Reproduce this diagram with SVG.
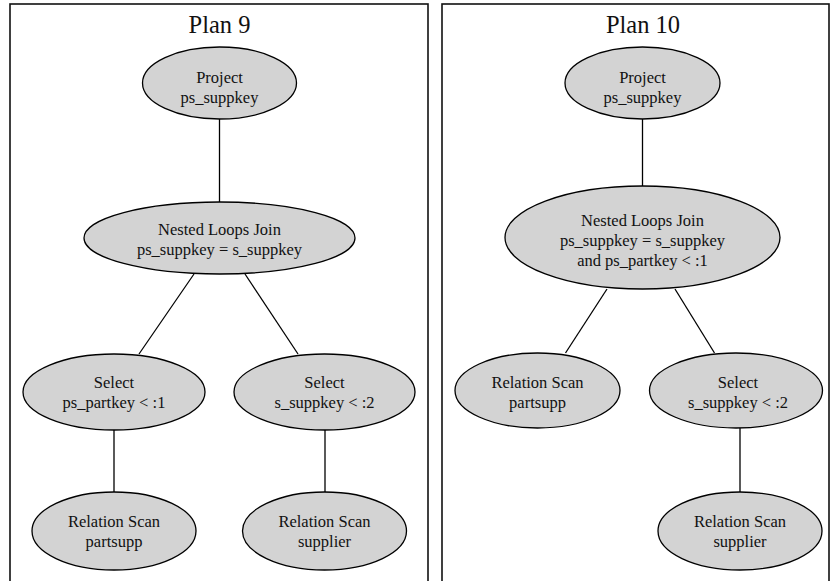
<svg xmlns="http://www.w3.org/2000/svg" width="832" height="581" viewBox="0 0 832 581">
<style>
.panel{fill:#fff;stroke:#111;stroke-width:1.6}
.node ellipse{fill:#d3d3d3;stroke:#000;stroke-width:1.3}
text{font-family:"Liberation Serif","Times New Roman",serif;fill:#111;text-anchor:middle}
.lbl{font-size:16.5px}
.title{font-size:24.5px}
.edges line{stroke:#000;stroke-width:1.3}
</style>
<rect width="832" height="581" fill="#fff"/>
<g id="panel-plan9">
<rect class="panel" x="10" y="4" width="418" height="600"/>
<text class="title" x="219.5" y="33">Plan 9</text>
</g>
<g id="panel-plan10">
<rect class="panel" x="442" y="4" width="387" height="600"/>
<text class="title" x="643" y="33">Plan 10</text>
</g>
<g class="edges" id="connectors">
<line x1="219.5" y1="119" x2="219.5" y2="202"/>
<line x1="194" y1="274" x2="139" y2="354"/>
<line x1="245" y1="274" x2="298" y2="354"/>
<line x1="114" y1="430" x2="114" y2="492"/>
<line x1="325" y1="430" x2="325" y2="492"/>
<line x1="642.5" y1="119" x2="642.5" y2="186"/>
<line x1="607" y1="289" x2="565.5" y2="353"/>
<line x1="675" y1="289" x2="714.5" y2="353"/>
<line x1="740" y1="428" x2="740" y2="492"/>
</g>
<g class="node" id="p9-project">
<ellipse cx="219.5" cy="83" rx="77" ry="36"/>
<text class="lbl" x="219.5" y="83">Project</text>
<text class="lbl" x="219.5" y="103">ps_suppkey</text>
</g>
<g class="node" id="p9-nlj">
<ellipse cx="219.5" cy="238" rx="135.5" ry="36"/>
<text class="lbl" x="219.5" y="235">Nested Loops Join</text>
<text class="lbl" x="219.5" y="255">ps_suppkey = s_suppkey</text>
</g>
<g class="node" id="p9-select-ps">
<ellipse cx="114" cy="392" rx="91" ry="38"/>
<text class="lbl" x="114" y="388">Select</text>
<text class="lbl" x="114" y="408">ps_partkey &lt; :1</text>
</g>
<g class="node" id="p9-select-s">
<ellipse cx="324.5" cy="392" rx="90.5" ry="38"/>
<text class="lbl" x="324.5" y="388">Select</text>
<text class="lbl" x="324.5" y="408">s_suppkey &lt; :2</text>
</g>
<g class="node" id="p9-scan-partsupp">
<ellipse cx="114" cy="531" rx="82" ry="39"/>
<text class="lbl" x="114" y="527">Relation Scan</text>
<text class="lbl" x="114" y="547">partsupp</text>
</g>
<g class="node" id="p9-scan-supplier">
<ellipse cx="324.5" cy="531" rx="82" ry="39"/>
<text class="lbl" x="324.5" y="527">Relation Scan</text>
<text class="lbl" x="324.5" y="547">supplier</text>
</g>
<g class="node" id="p10-project">
<ellipse cx="642.5" cy="83" rx="77.5" ry="36"/>
<text class="lbl" x="642.5" y="83">Project</text>
<text class="lbl" x="642.5" y="103">ps_suppkey</text>
</g>
<g class="node" id="p10-nlj">
<ellipse cx="642.5" cy="237.5" rx="137.5" ry="51.5"/>
<text class="lbl" x="642.5" y="225.5">Nested Loops Join</text>
<text class="lbl" x="642.5" y="245.5">ps_suppkey = s_suppkey</text>
<text class="lbl" x="642.5" y="265.5">and ps_partkey &lt; :1</text>
</g>
<g class="node" id="p10-scan-partsupp">
<ellipse cx="537.5" cy="390.5" rx="82.5" ry="37.5"/>
<text class="lbl" x="537.5" y="388">Relation Scan</text>
<text class="lbl" x="537.5" y="408">partsupp</text>
</g>
<g class="node" id="p10-select-s">
<ellipse cx="736" cy="390.5" rx="86.5" ry="37.5"/>
<text class="lbl" x="738" y="388">Select</text>
<text class="lbl" x="738" y="408">s_suppkey &lt; :2</text>
</g>
<g class="node" id="p10-scan-supplier">
<ellipse cx="740" cy="531" rx="82" ry="39"/>
<text class="lbl" x="740" y="527">Relation Scan</text>
<text class="lbl" x="740" y="547">supplier</text>
</g>
</svg>
